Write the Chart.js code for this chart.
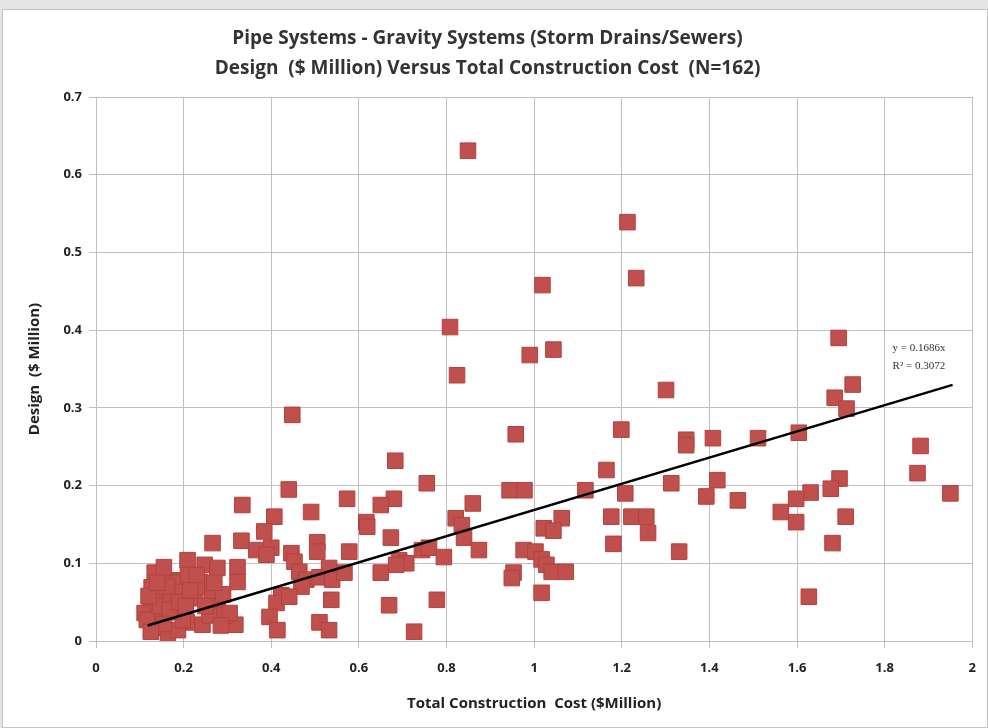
<!DOCTYPE html>
<html>
<head>
<meta charset="utf-8">
<script src="https://cdn.jsdelivr.net/npm/chart.js@4.4.1/dist/chart.umd.min.js"></script>
<style>
  html, body { margin: 0; padding: 0; background: #e4e4e4; }
  #frame { position: absolute; left: 2px; top: 9px; width: 984px; height: 717px; background: #fff; border: 1px solid #c4c4c4; }
  #wrap { position: absolute; left: 0; top: 0; width: 988px; height: 728px; }
</style>
</head>
<body>
<div id="frame"></div>
<div id="wrap"><canvas id="chart" width="988" height="728"></canvas></div>
<script>
// Design cost vs total construction cost, both in $ Million
const costX = [
  1.301, 1.727, 1.686, 1.713, 1.695, 1.347, 1.347, 1.408, 1.511, 1.604,
  1.882, 1.875, 1.95, 1.313, 1.418, 1.393, 1.465, 1.697, 1.677, 1.631,
  1.598, 1.563, 1.598, 1.711, 1.681, 1.331, 1.627,
  0.849, 1.213, 1.233, 1.019, 0.808, 0.824, 0.99, 1.044, 1.199, 0.958,
  1.117, 1.165, 1.208, 1.176, 1.222, 1.256, 1.26, 1.181,
  0.944, 0.978, 0.86, 0.821, 0.835, 0.84, 0.874,
  1.063, 1.022, 1.044, 0.976, 1.003, 1.017, 1.028, 1.04, 1.072, 0.953, 0.949, 1.017,
  0.755, 0.683, 0.68, 0.65, 0.617, 0.619, 0.673, 0.744, 0.76, 0.794,
  0.692, 0.708, 0.685, 0.65, 0.669, 0.778, 0.726,
  0.448, 0.44, 0.334, 0.573, 0.491, 0.407, 0.384, 0.332, 0.366, 0.4,
  0.389, 0.505, 0.505, 0.446, 0.453, 0.578, 0.323, 0.323, 0.464, 0.48,
  0.469, 0.51, 0.532, 0.539, 0.567, 0.423, 0.412, 0.441, 0.537, 0.396,
  0.414, 0.51, 0.532, 0.318,
  0.209, 0.248, 0.277, 0.134, 0.175, 0.187, 0.127, 0.237, 0.123, 0.152,
  0.196, 0.225, 0.264, 0.278, 0.111, 0.141, 0.18, 0.207, 0.134, 0.164,
  0.187, 0.243, 0.259, 0.293, 0.266,
  0.162, 0.23, 0.116, 0.198, 0.305, 0.146, 0.17, 0.21, 0.155, 0.12, 0.25, 0.14, 0.29,
  0.168, 0.19, 0.215, 0.27, 0.285, 0.155, 0.23, 0.125, 0.205
];
const designY = [
  0.323, 0.33, 0.313, 0.299, 0.39, 0.259, 0.252, 0.261, 0.261, 0.268,
  0.251, 0.216, 0.19, 0.203, 0.207, 0.186, 0.181, 0.209, 0.196, 0.191,
  0.183, 0.166, 0.153, 0.16, 0.126, 0.115, 0.057,
  0.631, 0.539, 0.467, 0.458, 0.404, 0.342, 0.368, 0.375, 0.272, 0.266,
  0.194, 0.22, 0.19, 0.16, 0.16, 0.16, 0.139, 0.125,
  0.194, 0.194, 0.177, 0.158, 0.149, 0.133, 0.117,
  0.158, 0.145, 0.142, 0.117, 0.115, 0.105, 0.098, 0.089, 0.089, 0.088, 0.081, 0.062,
  0.203, 0.232, 0.183, 0.175, 0.153, 0.147, 0.133, 0.117, 0.12, 0.108,
  0.104, 0.1, 0.098, 0.088, 0.046, 0.053, 0.012,
  0.291, 0.195, 0.175, 0.183, 0.166, 0.16, 0.141, 0.129, 0.117, 0.12,
  0.111, 0.127, 0.115, 0.113, 0.102, 0.115, 0.095, 0.076, 0.089, 0.079,
  0.07, 0.082, 0.094, 0.079, 0.088, 0.059, 0.049, 0.057, 0.053, 0.031,
  0.014, 0.024, 0.014, 0.021,
  0.104, 0.098, 0.094, 0.088, 0.078, 0.075, 0.069, 0.076, 0.049, 0.059,
  0.063, 0.055, 0.059, 0.044, 0.036, 0.03, 0.037, 0.024, 0.017, 0.008,
  0.014, 0.021, 0.033, 0.033, 0.126,
  0.07, 0.07, 0.027, 0.027, 0.036, 0.045, 0.05, 0.085, 0.095, 0.058, 0.045, 0.075, 0.06,
  0.04, 0.05, 0.065, 0.075, 0.02, 0.022, 0.085, 0.012, 0.045
];

// linear trend line y = 0.1686x, end points
const trendX = [0.118, 1.955];
const trendY = [0.0199, 0.3296];
const trendLabel = ["y = 0.1686x", "R\u00b2 = 0.3072"];

const xTicks = [0, 0.2, 0.4, 0.6, 0.8, 1, 1.2, 1.4, 1.6, 1.8, 2];
const yTicks = [0, 0.1, 0.2, 0.3, 0.4, 0.5, 0.6, 0.7];

const FONT = "'Liberation Sans Narrow', 'Open Sans', sans-serif";

const points = costX.map((x, i) => ({ x: x, y: designY[i] }));
const trend = trendX.map((x, i) => ({ x: x, y: trendY[i] }));

// equation text next to the end of the trend line
const eqPlugin = {
  id: "eqLabel",
  afterDatasetsDraw(chart) {
    const { ctx, scales } = chart;
    ctx.save();
    ctx.font = "11px 'Liberation Serif', serif";
    ctx.fillStyle = "#333";
    ctx.textBaseline = "middle";
    ctx.fillText(trendLabel[0], scales.x.getPixelForValue(1.818), scales.y.getPixelForValue(0.377));
    ctx.fillText(trendLabel[1], scales.x.getPixelForValue(1.818), scales.y.getPixelForValue(0.354));
    ctx.restore();
  }
};

new Chart(document.getElementById("chart"), {
  type: "scatter",
  data: {
    datasets: [
      {
        data: points,
        order: 2,
        pointStyle: "rect",
        pointRadius: 11,
        backgroundColor: "#c0504d",
        borderColor: "#b3413e",
        borderWidth: 1
      },
      {
        type: "line",
        data: trend,
        order: 1,
        borderColor: "#000",
        borderWidth: 2.5,
        pointRadius: 0,
        fill: false
      }
    ]
  },
  options: {
    responsive: false,
    animation: false,
    layout: { padding: { left: 0, right: 13, top: 0, bottom: 0 } },
    plugins: {
      legend: { display: false },
      tooltip: { enabled: false },
      title: {
        display: true,
        text: ["Pipe Systems - Gravity Systems (Storm Drains/Sewers)",
               "Design  ($ Million) Versus Total Construction Cost  (N=162)"],
        color: "#333",
        font: { family: FONT, size: 19, weight: "bold", lineHeight: 1.58 },
        padding: { top: 24, bottom: 13 }
      }
    },
    scales: {
      x: {
        type: "linear",
        min: 0, max: 2,
        afterBuildTicks(s) { s.ticks = xTicks.map(v => ({ value: v })); },
        afterFit(s) { s.height = 87; },
        ticks: {
          color: "#222",
          padding: 12,
          font: { family: FONT, size: 13, weight: "bold" },
          callback: v => String(v)
        },
        grid: { color: "#bfbfbf", lineWidth: 1, tickLength: 7 },
        border: { color: "#bfbfbf" },
        title: {
          display: true,
          text: "Total Construction  Cost ($Million)",
          color: "#222",
          font: { family: FONT, size: 15, weight: "bold" },
          padding: { top: 6, bottom: 15 }
        }
      },
      y: {
        type: "linear",
        min: 0, max: 0.7,
        afterBuildTicks(s) { s.ticks = yTicks.map(v => ({ value: v })); },
        afterFit(s) { s.width = 96; },
        ticks: {
          color: "#222",
          padding: 7,
          font: { family: FONT, size: 13, weight: "bold" },
          callback: v => String(Math.round(v * 10) / 10)
        },
        grid: { color: "#bfbfbf", lineWidth: 1, tickLength: 7 },
        border: { color: "#bfbfbf" },
        title: {
          display: true,
          text: "Design  ($ Million)",
          color: "#222",
          font: { family: FONT, size: 15, weight: "bold" },
          padding: { top: 26, bottom: 0 }
        }
      }
    }
  },
  plugins: [eqPlugin]
});
</script>
</body>
</html>
